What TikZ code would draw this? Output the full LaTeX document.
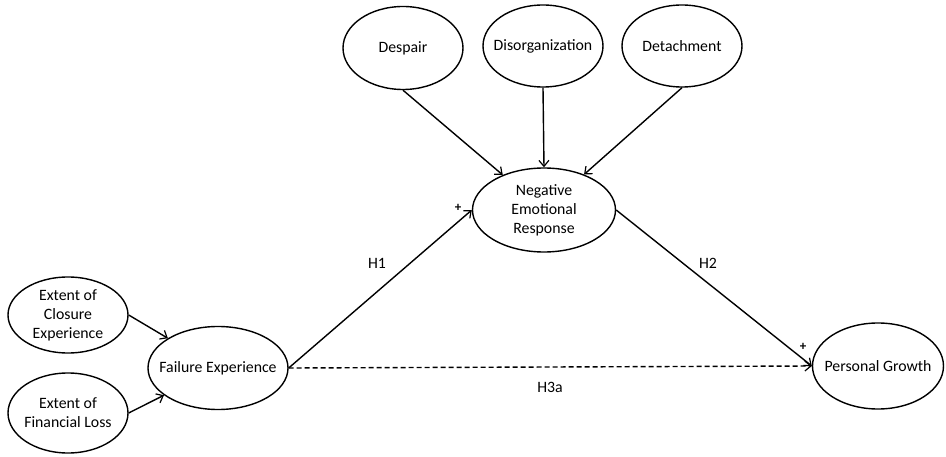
\documentclass[tikz,border=0pt]{standalone}
\usepackage{fontspec}
\setmainfont{Carlito}
\usetikzlibrary{shapes,arrows,arrows.meta}

\tikzset{
  construct/.style={draw=black, line width=1.4pt, ellipse, inner xsep=-25pt, inner ysep=-12pt, align=center,
    font=\fontsize{15.8}{19}\selectfont},
  path/.style={line width=1.4pt, draw=black, -{Straight Barb[length=6pt,width=10pt,line width=1.2pt]}},
  hyp/.style={font=\fontsize{15.8}{19}\selectfont},
  sign/.style={font=\fontsize{13}{14}\selectfont\bfseries, inner sep=0pt}
}

\begin{document}
\begin{tikzpicture}[x=1pt,y=-1pt]
\useasboundingbox (0,0) rectangle (946,457);
\fill[white] (0,0) rectangle (946,457);

% antecedents
\node[construct, minimum width=120pt, minimum height=76pt] (closure) at (68,315) {Extent of\\Closure\\Experience};
\node[construct, minimum width=120pt, minimum height=80pt] (finloss) at (68,413) {Extent of\\Financial Loss};
\node[construct, minimum width=140pt, minimum height=83pt] (failure) at (218,368) {Failure Experience};

% dimensions of the response
\node[construct, minimum width=120pt, minimum height=83pt] (despair) at (403,48) {Despair};
\node[construct, minimum width=120pt, minimum height=82pt] (disorg) at (543,46) {Disorganization};
\node[construct, minimum width=120pt, minimum height=82pt] (detach) at (682,46) {Detachment};
\node[construct, minimum width=143pt, minimum height=84pt] (negresp) at (544,210) {Negative\\Emotional\\Response};

% outcome
\node[construct, minimum width=131pt, minimum height=86pt] (growth) at (878,366) {Personal Growth};

\draw[path] (closure.east) -- (failure);
\draw[path] (finloss.east) -- (failure);
\draw[path] (despair.south) -- (negresp);
\draw[path] (disorg.south) -- (negresp.north);
\draw[path] (detach.south) -- (negresp);
\draw[path] (failure.east) -- (negresp.west);
\draw[path] (negresp.east) -- (growth.west);
\draw[path, dash pattern=on 5pt off 3pt] (failure.east) -- (growth.west);

% hypotheses
\node[hyp] (hone) at (377,263) {H1};
\node[hyp] (htwo) at (708,263) {H2};
\node[hyp] (hthree) at (550,387) {H3a};
\node[sign] (plusone) at (458,208) {+};
\node[sign] (plustwo) at (803,347) {+};
\end{tikzpicture}
\end{document}
